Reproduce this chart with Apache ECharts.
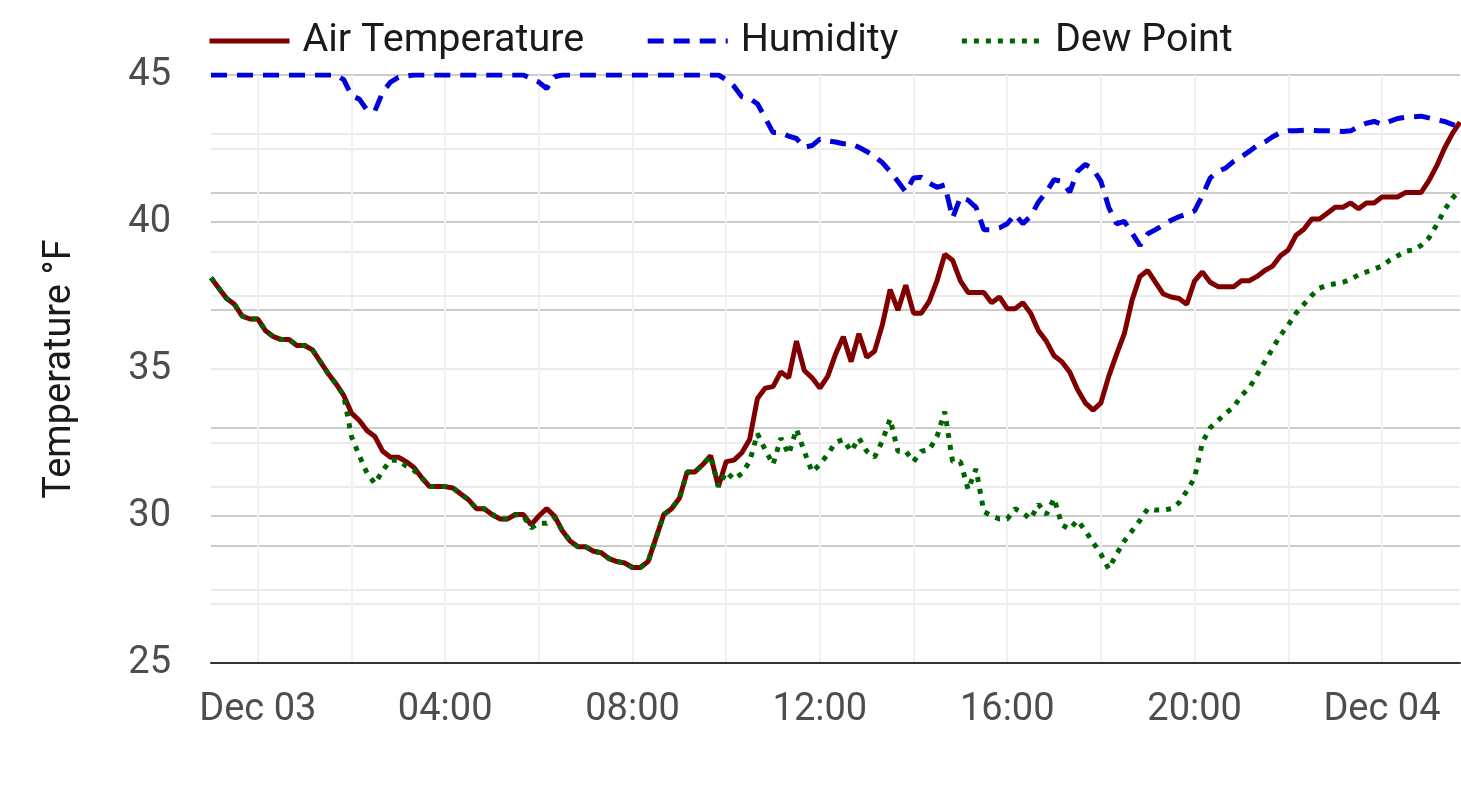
<!DOCTYPE html>
<html>
<head>
<meta charset="utf-8">
<title>Temperature</title>
<script src="https://cdn.jsdelivr.net/npm/echarts@6/dist/echarts.min.js"></script>
<style>html,body{margin:0;padding:0;background:#fff}</style>
</head>
<body>
<div id="main" style="width:1461px;height:786px"></div>
<script>
// readings every 10 minutes, Dec 02 23:00 -> Dec 04 01:40 (one row = one hour)
var startDay = 2, startHour = 23, stepMin = 10;

var airTemp = [
  38.1, 37.75, 37.4, 37.2, 36.8, 36.7,
  36.7, 36.3, 36.1, 36.0, 36.0, 35.8,
  35.8, 35.65, 35.25, 34.85, 34.5, 34.1,
  33.5, 33.25, 32.9, 32.7, 32.2, 32.0,
  32.0, 31.85, 31.65, 31.3, 31.0, 31.0,
  31.0, 30.95, 30.75, 30.55, 30.25, 30.25,
  30.05, 29.9, 29.9, 30.05, 30.05, 29.7,
  30.0, 30.25, 30.0, 29.5, 29.15, 28.95,
  28.95, 28.8, 28.75, 28.55, 28.45, 28.4,
  28.25, 28.25, 28.45, 29.25, 30.05, 30.25,
  30.6, 31.5, 31.5, 31.75, 32.05, 31.0,
  31.85, 31.9, 32.15, 32.6, 34.0, 34.35,
  34.4, 34.9, 34.7, 35.95, 34.95, 34.7,
  34.35, 34.75, 35.5, 36.1, 35.25, 36.2,
  35.4, 35.6, 36.5, 37.7, 37.0, 37.85,
  36.9, 36.9, 37.3, 38.0, 38.9, 38.7,
  38.0, 37.6, 37.6, 37.6, 37.25, 37.45,
  37.05, 37.05, 37.25, 36.9, 36.3, 35.95,
  35.45, 35.25, 34.9, 34.3, 33.85, 33.6,
  33.85, 34.75, 35.5, 36.2, 37.35, 38.15,
  38.35, 37.95, 37.55, 37.45, 37.4, 37.2,
  38.0, 38.3, 37.95, 37.8, 37.8, 37.8,
  38.0, 38.0, 38.15, 38.35, 38.5, 38.85,
  39.05, 39.55, 39.75, 40.1, 40.1, 40.3,
  40.5, 40.5, 40.65, 40.45, 40.65, 40.65,
  40.85, 40.85, 40.85, 41.0, 41.0, 41.0,
  41.4, 41.9, 42.5, 43.0, 43.4
];

var dewPoint = [
  38.1, 37.75, 37.4, 37.2, 36.8, 36.7,
  36.7, 36.3, 36.1, 36.0, 36.0, 35.8,
  35.8, 35.65, 35.25, 34.85, 34.5, 34.1,
  32.7, 32.05, 31.45, 31.1, 31.55, 31.9,
  31.9, 31.7, 31.55, 31.3, 31.0, 31.0,
  31.0, 30.95, 30.75, 30.55, 30.25, 30.25,
  30.05, 29.9, 29.9, 30.05, 30.0, 29.6,
  29.75, 29.75, 29.95, 29.5, 29.15, 28.95,
  28.95, 28.8, 28.75, 28.55, 28.45, 28.4,
  28.25, 28.25, 28.45, 29.25, 30.05, 30.25,
  30.6, 31.5, 31.5, 31.75, 32.05, 31.0,
  31.5, 31.25, 31.45, 31.85, 32.8, 32.25,
  31.75, 32.65, 32.1, 32.95, 32.2, 31.5,
  31.75, 32.1, 32.5, 32.6, 32.2, 32.65,
  32.2, 32.0, 32.55, 33.3, 32.2, 32.2,
  31.85, 32.2, 32.25, 32.7, 33.55, 31.85,
  31.85, 30.9, 31.6, 30.15, 30.0, 29.9,
  29.9, 30.25, 30.1, 29.9, 30.4, 30.05,
  30.6, 29.7, 29.55, 29.85, 29.5, 29.1,
  28.7, 28.2, 28.7, 29.15, 29.5, 29.85,
  30.25, 30.2, 30.2, 30.25, 30.45, 30.85,
  31.3, 32.5, 33.0, 33.25, 33.5, 33.7,
  34.1, 34.35, 34.8, 35.25, 35.7, 36.15,
  36.5, 36.9, 37.2, 37.5, 37.75, 37.85,
  37.9, 37.95, 38.05, 38.2, 38.3, 38.4,
  38.5, 38.7, 38.85, 39.0, 39.05, 39.2,
  39.45, 39.9, 40.4, 40.8, 41.1
];

// relative humidity, %
var humidity = [
  100, 100, 100, 100, 100, 100,
  100, 100, 100, 100, 100, 100,
  100, 100, 100, 100, 100, 99.2,
  96.5, 95.9, 94.0, 93.9, 97.1, 98.8,
  99.6, 99.8, 100, 100, 100, 100,
  100, 100, 100, 100, 100, 100,
  100, 100, 100, 100, 100, 99.4,
  98.8, 97.7, 99.7, 100, 100, 100,
  100, 100, 100, 100, 100, 100,
  100, 100, 100, 100, 100, 100,
  100, 100, 100, 100, 100, 100,
  99.2, 98.1, 96.3, 96.0, 95.1, 92.7,
  90.2, 90.2, 89.6, 89.2, 87.7, 88.0,
  89.1, 88.8, 88.6, 88.3, 88.3, 87.7,
  87.0, 86.1, 85.1, 83.6, 81.9, 80.1,
  82.5, 82.6, 81.6, 80.9, 81.3, 75.7,
  79.2, 78.7, 77.5, 73.7, 73.7, 74.0,
  74.7, 76.3, 74.7, 76.0, 78.4, 80.1,
  82.2, 81.9, 80.1, 83.6, 84.8, 84.0,
  81.9, 77.5, 74.7, 75.1, 73.1, 71.0,
  73.0, 73.7, 74.5, 75.3, 75.9, 76.3,
  76.9, 79.5, 82.5, 83.6, 84.2, 85.3,
  86.1, 87.0, 88.0, 88.6, 89.5, 90.2,
  90.5, 90.5, 90.6, 90.6, 90.5, 90.5,
  90.5, 90.4, 90.5, 91.2, 91.8, 92.1,
  91.6, 92.1, 92.6, 92.8, 92.9, 93.0,
  92.7, 92.4, 92.1, 91.6, 91.2
];

function pad(n) { return (n < 10 ? '0' : '') + n; }

// time stamps for the category axis
var times = [];
for (var i = 0; i < airTemp.length; i++) {
  var m = startHour * 60 + i * stepMin;
  var d = startDay + Math.floor(m / 1440);
  m = m % 1440;
  times.push('Dec ' + pad(d) + ' ' + pad(Math.floor(m / 60)) + ':' + pad(m % 60));
}

function hourOf(v) { return parseInt(v.substr(7, 2), 10); }
function onHour(v) { return v.substr(10, 2) === '00'; }

var font = 'Roboto';
var myChart = echarts.init(document.getElementById('main'));

myChart.setOption({
  animation: false,
  backgroundColor: '#ffffff',
  textStyle: { fontFamily: font },
  grid: { left: 211, right: 1, top: 75, bottom: 123 },
  legend: {
    left: 207,
    top: 21,
    padding: 0,
    itemWidth: 80,
    itemHeight: 20,
    itemGap: 61,
    // only the line sample, no marker in the middle
    itemStyle: { opacity: 0, borderWidth: 0 },
    lineStyle: { width: 5 },
    textStyle: { fontFamily: font, fontSize: 39.5, color: '#1a1a1a', padding: [0, 0, 0, 8] },
    data: ['Air Temperature', 'Humidity', 'Dew Point']
  },
  xAxis: {
    type: 'category',
    data: times,
    boundaryGap: false,
    axisLine: { lineStyle: { color: '#333333', width: 2 } },
    axisTick: { show: false },
    axisLabel: {
      interval: function (idx, v) { return onHour(v) && hourOf(v) % 4 === 0; },
      formatter: function (v) {
        var h = hourOf(v);
        return h === 0 ? v.substr(0, 6) : pad(h) + ':00';
      },
      margin: 28,
      fontSize: 38,
      color: '#4d4d4d',
      fontFamily: font
    },
    splitLine: {
      show: true,
      interval: function (idx, v) { return onHour(v) && hourOf(v) % 2 === 0; },
      lineStyle: { color: '#f0f0f0', width: 2 }
    }
  },
  yAxis: [{
    type: 'value',
    min: 25,
    max: 45,
    interval: 5,
    name: 'Temperature °F',
    nameLocation: 'middle',
    nameRotate: 90,
    nameGap: 132,
    nameTextStyle: { fontSize: 38, color: '#1a1a1a', fontFamily: font },
    axisLine: { show: false },
    axisTick: { show: false },
    axisLabel: { margin: 40, fontSize: 38, color: '#4d4d4d', fontFamily: font },
    splitLine: { lineStyle: { color: '#cccccc', width: 2 } },
    minorTick: { show: false, splitNumber: 2 },
    minorSplitLine: { show: true, lineStyle: { color: '#ebebeb', width: 2 } }
  }, {
    type: 'value',
    min: 0,
    max: 100,
    interval: 20,
    position: 'right',
    axisLine: { show: false },
    axisTick: { show: false },
    axisLabel: { show: false },
    splitLine: { lineStyle: { color: '#cccccc', width: 2 } },
    minorTick: { show: false, splitNumber: 2 },
    minorSplitLine: { show: true, lineStyle: { color: '#ebebeb', width: 2 } }
  }],
  series: [{
    name: 'Air Temperature',
    type: 'line',
    data: airTemp,
    symbol: 'none',
    lineStyle: { color: '#800000', width: 5 },
    itemStyle: { color: '#800000' },
    z: 3
  }, {
    name: 'Humidity',
    type: 'line',
    yAxisIndex: 1,
    data: humidity,
    symbol: 'none',
    lineStyle: { color: '#0000dd', width: 5, type: [16, 10] },
    itemStyle: { color: '#0000dd' },
    z: 4
  }, {
    name: 'Dew Point',
    type: 'line',
    data: dewPoint,
    symbol: 'none',
    lineStyle: { color: '#006400', width: 5, type: [5, 7] },
    itemStyle: { color: '#006400' },
    z: 5
  }]
});
</script>
</body>
</html>
